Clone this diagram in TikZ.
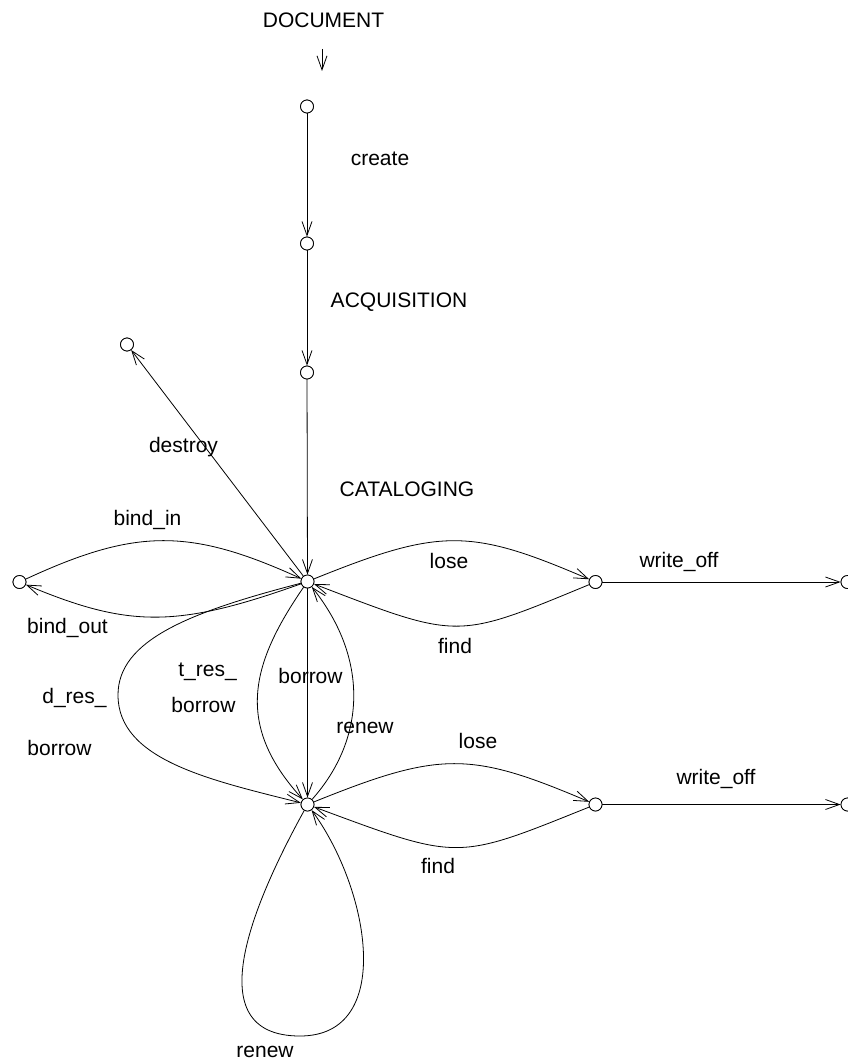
\documentclass[tikz,border=0pt]{standalone}
\usepackage{fontspec}
\setmainfont{Liberation Sans}
\usetikzlibrary{arrows.meta}
\begin{document}
\begin{tikzpicture}[x=1pt,y=-1pt,
  state/.style={circle,draw,fill=white,inner sep=0pt,minimum size=13pt,line width=0.8pt},
  lbl/.style={font=\fontsize{21}{25}\selectfont,inner sep=0pt,anchor=base},
  tr/.style={line width=0.8pt,-{Straight Barb[length=14pt,width=10pt]}}]
\useasboundingbox (0,0) rectangle (847,1062);

% states
\node[state] (s0)  at (307,106.5) {};
\node[state] (s1)  at (307,243.5) {};
\node[state] (s2)  at (307,372.5) {};
\node[state] (cat) at (307.5,581.5) {};
\node[state] (dst) at (127,344.5) {};
\node[state] (bnd) at (19.5,582) {};
\node[state] (ls1) at (595.5,582) {};
\node[state] (wo1) at (847.5,582) {};
\node[state] (brw) at (307.5,804.5) {};
\node[state] (ls2) at (595.5,804.5) {};
\node[state] (wo2) at (847.5,804.5) {};

% entry arrow
\coordinate (in0) at (322,49);
\coordinate (in1) at (322,71);
\draw[tr] (in0) -- (in1);

% straight transitions
\draw[tr] (s0) -- (s1);
\draw[tr] (s1) -- (s2);
\draw[tr] (s2) -- (cat);
\draw[tr] (cat) -- (dst);
\draw[tr] (cat) -- (brw);
\draw[tr] (ls1) -- (wo1);
\draw[tr] (ls2) -- (wo2);

% binding
\draw[tr] (bnd) .. controls (136,528) and (190,528) .. (cat);
\draw[tr] (cat) .. controls (177,628) and (129,628) .. (bnd);

% lose / find, first row
\draw[tr] (cat) .. controls (440,528) and (470,528) .. (ls1);
\draw[tr] (ls1) .. controls (455,640) and (460,640) .. (cat);

% lose / find, second row
\draw[tr] (brw) .. controls (440,751) and (470,751) .. (ls2);
\draw[tr] (ls2) .. controls (455,861) and (460,861) .. (brw);

% reservations and renewal
\draw[tr] (cat) .. controls (190,612) and (118,640) .. (118,695)
                .. controls (118,760) and (210,780) .. (brw);
\draw[tr] (cat) .. controls (250,665) and (235,725) .. (brw);
\draw[tr] (brw) .. controls (365,740) and (370,660) .. (cat);
\draw[tr] (brw) .. controls (255,900) and (195,1036) .. (300,1036)
                .. controls (395,1036) and (370,890) .. (brw);

% redraw states on top
\foreach \n in {s0,s1,s2,cat,dst,bnd,ls1,wo1,brw,ls2,wo2}
  \draw[line width=0.8pt,fill=white] (\n) circle (6.5pt);

% labels
\node[lbl] (tDoc)  at (323.5,28)  {DOCUMENT};
\node[lbl] (tCre)  at (380,165)   {create};
\node[lbl] (tAcq)  at (399,307)   {ACQUISITION};
\node[lbl] (tCat)  at (407,496)   {CATALOGING};
\node[lbl] (tDes)  at (183.5,452) {destroy};
\node[lbl] (tBi)   at (147.5,525) {bind\_in};
\node[lbl] (tBo)   at (67.5,633)  {bind\_out};
\node[lbl] (tLo1)  at (449,568)   {lose};
\node[lbl] (tFi1)  at (455,653)   {find};
\node[lbl] (tWo1)  at (679,567)   {write\_off};
\node[lbl] (tTr1)  at (207.5,676) {t\_res\_};
\node[lbl] (tTr2)  at (203.5,712) {borrow};
\node[lbl] (tDr1)  at (74.5,703)  {d\_res\_};
\node[lbl] (tDr2)  at (59.5,755)  {borrow};
\node[lbl] (tBor)  at (310.5,683) {borrow};
\node[lbl] (tRn1)  at (365,733)   {renew};
\node[lbl] (tLo2)  at (478,748)   {lose};
\node[lbl] (tWo2)  at (716,784)   {write\_off};
\node[lbl] (tFi2)  at (438,873)   {find};
\node[lbl] (tRn2)  at (265,1057)  {renew};
\end{tikzpicture}
\end{document}
